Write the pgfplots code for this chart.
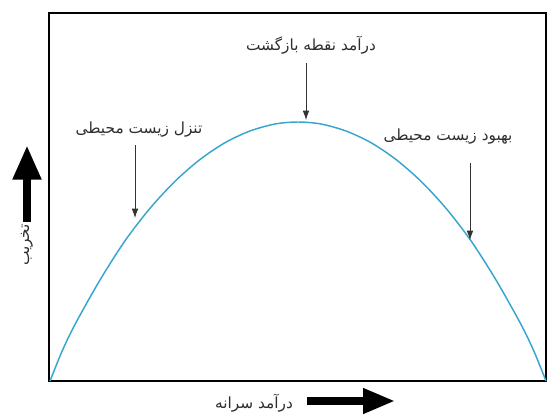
\documentclass[border=0pt]{standalone}
\usepackage{pgfplots}
\pgfplotsset{compat=1.18}
\usepackage{fontspec}
\usetikzlibrary{arrows.meta}
\TeXXeTstate=1
\newfontfamily\fa[Script=Arabic]{DejaVu Sans}
\definecolor{curveblue}{RGB}{55,165,205}
\definecolor{txt}{RGB}{45,45,45}
\newcommand{\lbl}{\fa\fontsize{11.5}{13}\selectfont}

% curve: x in px, height above the x axis in px
\pgfplotstableread{
x h
50 0
62 29.6
75 56.6
100 101
125 140.2
150 172.7
175 199.7
200 221.5
225 238.3
250 250
275 257
298 259
321 257
346 250
371 238.3
396 221.5
421 199.7
446 172.7
471 140.2
496 101
521 56.6
534 29.6
546 0
}\kuznets

\begin{document}
\begin{tikzpicture}
\begin{axis}[
    scale only axis,
    width=372.75pt, height=276pt,
    xmin=49, xmax=546, ymin=0, ymax=368,
    axis line style={line width=1.8pt, black},
    xtick=\empty, ytick=\empty,
    clip=false,
]
\addplot[curveblue, line width=1.1pt, smooth] table[x=x, y=h] {\kuznets};

% annotations
\node[text=txt] at (axis cs:311,336) {\lbl\beginR درآمد نقطه بازگشت\endR};
\draw[-{Latex[length=7pt,width=5pt]}, line width=0.6pt, black!80] (axis cs:306,318) -- (axis cs:306,261);
\node[text=txt] at (axis cs:139,251) {\lbl\beginR تنزل زیست محیطی\endR};
\draw[-{Latex[length=7pt,width=5pt]}, line width=0.6pt, black!80] (axis cs:135,236) -- (axis cs:135,163);
\node[text=txt] at (axis cs:448,244) {\lbl\beginR بهبود زیست محیطی\endR};
\draw[-{Latex[length=7pt,width=5pt]}, line width=0.6pt, black!80] (axis cs:470,218) -- (axis cs:470,141);

% axis titles with thick arrows
\draw[-{Triangle[length=26pt,width=20pt]}, line width=6.5pt] (axis cs:27,159) -- (axis cs:27,236);
\node[rotate=90, text=txt] at (axis cs:27,136) {\lbl\beginR تخریب\endR};
\draw[-{Triangle[length=24pt,width=18pt]}, line width=5.5pt] (axis cs:307,-20) -- (axis cs:395,-20);
\node[text=txt] at (axis cs:254,-22) {\lbl\beginR درآمد سرانه\endR};

\coordinate (bl) at (axis cs:0,-34);
\coordinate (tr) at (axis cs:547,381);
\end{axis}
\pgfresetboundingbox
\useasboundingbox (bl) rectangle (tr);
\end{tikzpicture}
\end{document}
